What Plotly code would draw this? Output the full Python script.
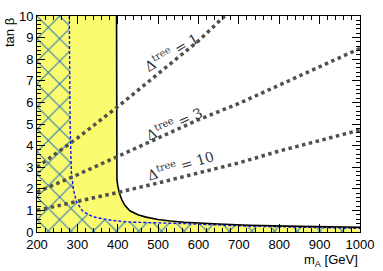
import plotly.graph_objects as go

# Boundary curves (mA in GeV, tan beta)
black_mA = [397, 397, 398, 400, 404, 410, 418, 430, 450, 470, 500, 530, 565, 650, 725, 850, 1000]
black_tb = [10, 2.8, 2.45, 2.15, 1.8, 1.5, 1.22, 0.98, 0.8, 0.69, 0.58, 0.51, 0.45, 0.37, 0.31, 0.26, 0.22]

blue_mA = [280, 282, 285, 290, 297, 312, 330, 346, 385, 426, 565, 725, 1000]
blue_tb = [10, 5.0, 2.8, 2.0, 1.43, 0.99, 0.78, 0.67, 0.54, 0.46, 0.39, 0.27, 0.17]

# Delta^tree contours
d1_mA = [200, 300, 400, 500, 600, 665]
d1_tb = [3.0, 4.35, 5.8, 7.3, 8.85, 10.0]
d3_mA = [200, 300, 400, 500, 600, 700, 800, 900, 1000]
d3_tb = [1.85, 2.65, 3.5, 4.35, 5.2, 5.95, 6.8, 7.65, 8.5]
d10_mA = [200, 300, 400, 500, 600, 700, 800, 900, 1000]
d10_tb = [1.0, 1.4, 1.83, 2.27, 2.73, 3.2, 3.75, 4.25, 4.72]

labels = ["1", "3", "10"]
label_mA = [531, 540, 555]
label_tb = [8.35, 5.05, 3.1]
label_angle = [-31, -24, -17]

x_ticks = [200, 300, 400, 500, 600, 700, 800, 900, 1000]
y_ticks = list(range(0, 11))

XMIN, XMAX, YMIN, YMAX = 200, 1000, 0, 10

fig = go.Figure()

# yellow region
fig.add_trace(go.Scatter(
    x=[XMIN, XMIN] + black_mA + [XMAX, XMIN],
    y=[YMIN, YMAX] + black_tb + [YMIN, YMIN],
    fill="toself", fillcolor="#fbfb70", line=dict(width=0), mode="lines",
    hoverinfo="skip", showlegend=False))

# hatched region
fig.add_trace(go.Scatter(
    x=[XMIN, XMIN] + blue_mA + [XMAX, XMIN],
    y=[YMIN, YMAX] + blue_tb + [YMIN, YMIN],
    fill="toself", fillcolor="rgba(0,0,0,0)",
    fillpattern=dict(shape="x", fgcolor="#2a78b8", bgcolor="rgba(0,0,0,0)",
                     fgopacity=1, size=16, solidity=0.13),
    line=dict(width=0), mode="lines", hoverinfo="skip", showlegend=False))

# blue dashed boundary
fig.add_trace(go.Scatter(x=blue_mA, y=blue_tb, mode="lines",
                         line=dict(color="#1010ff", width=1.4, dash="3px,2px"),
                         showlegend=False))
# black boundary
fig.add_trace(go.Scatter(x=black_mA, y=black_tb, mode="lines",
                         line=dict(color="black", width=1.6),
                         showlegend=False))

for xs, ys in [(d1_mA, d1_tb), (d3_mA, d3_tb), (d10_mA, d10_tb)]:
    fig.add_trace(go.Scatter(x=xs, y=ys, mode="lines",
                             line=dict(color="#505050", width=3.5, dash="dot"),
                             showlegend=False))

for lab, lx, ly, ang in zip(labels, label_mA, label_tb, label_angle):
    fig.add_annotation(x=lx, y=ly, xref="x", yref="y",
                       text="Δ<sup>tree</sup> = " + lab, showarrow=False,
                       textangle=ang,
                       font=dict(family="DejaVu Serif", size=14, color="#333333"))

axis_common = dict(showline=True, linecolor="black", linewidth=1, mirror="ticks",
                   ticks="inside", tickcolor="black", showgrid=False, zeroline=False,
                   tickfont=dict(family="Liberation Sans", size=13, color="black"))

fig.update_xaxes(range=[XMIN, XMAX], tickvals=x_ticks, ticklen=8,
                 minor=dict(dtick=20, ticklen=4, ticks="inside", tickcolor="black"),
                 **axis_common)
fig.update_yaxes(range=[YMIN, YMAX], tickvals=y_ticks, ticklen=8,
                 minor=dict(dtick=0.2, ticklen=4, ticks="inside", tickcolor="black"),
                 **axis_common)

fig.add_annotation(xref="paper", yref="paper", x=1, y=-0.085,
                   xanchor="right", yanchor="top", showarrow=False,
                   text="m<sub>A</sub> [GeV]",
                   font=dict(family="Liberation Sans", size=13, color="black"))
fig.add_annotation(xref="paper", yref="paper", x=-0.085, y=1,
                   xanchor="center", yanchor="top", showarrow=False,
                   text="tan β", textangle=-90,
                   font=dict(family="Liberation Sans", size=13, color="black"))

fig.update_layout(width=383, height=271,
                  margin=dict(l=37, r=17, t=9, b=39),
                  paper_bgcolor="white", plot_bgcolor="white")

fig.write_html("out.html", config={"displayModeBar": False},
               post_script="document.body.style.margin='0';document.body.style.overflow='hidden';")
